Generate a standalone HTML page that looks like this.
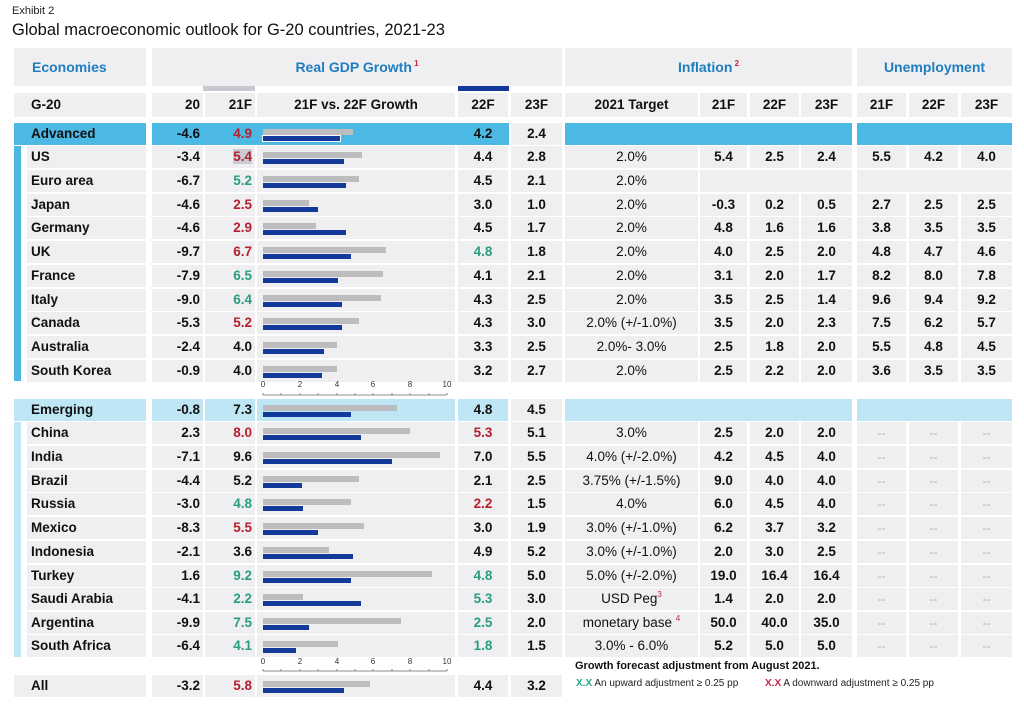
<!DOCTYPE html>
<html><head><meta charset="utf-8"><style>
body{margin:0;width:1024px;height:707px;background:#fff;font-family:"Liberation Sans",Arial,sans-serif;position:relative;overflow:hidden}
.ab{position:absolute}
.r{position:absolute;left:0;width:1024px;height:22px}
.r>div{position:absolute;top:0;height:22px;line-height:22px;background:#efeff1;font-weight:bold;font-size:13.5px;color:#111;box-sizing:border-box}
.n{left:27px;width:119px;padding-left:4px}
.a{left:152px;width:51px;text-align:right;padding-right:3px}
.b{left:205px;width:50px;text-align:right;padding-right:3px}
.ch{left:257px;width:198px}
.d{left:458px;width:50px;text-align:center}
.e{left:511px;width:51px;text-align:center}
.t{left:565px;width:133px;text-align:center;font-weight:normal!important}
.i1{left:700px;width:47px;text-align:center}
.i2{left:750px;width:49px;text-align:center}
.i3{left:801px;width:51px;text-align:center}
.u1{left:857px;width:49px;text-align:center}
.u2{left:909px;width:49px;text-align:center}
.u3{left:961px;width:51px;text-align:center}
.dash{color:#b0b0b0!important;font-weight:normal!important;font-size:12px!important}
.g{color:#2a9d7f!important}.rd{color:#b5202e!important}
.gb{position:absolute;left:6px;top:6px;height:6px;background:#bdbdc0}
.bb{position:absolute;left:6px;top:13px;height:5px;background:#13399b}
.hd{position:absolute;background:#efeff1;color:#1f7ec0;font-weight:bold;font-size:14px;text-align:center;top:48px;height:38px;line-height:38px}
.h2{position:absolute;top:93px;height:24px;line-height:24px;background:#efeff1;font-weight:bold;font-size:13.5px;text-align:center;color:#111}
.adv>div{background:#4cb8e4}
.adv>div.tr{background:transparent}
.emg>div{background:#bfe6f5}
sup{color:#c0283a;font-size:8px;line-height:0;vertical-align:6px}
</style></head><body>
<div class="ab" style="left:12px;top:5px;font-size:11px;color:#222">Exhibit 2</div>
<div class="ab" style="left:12px;top:21px;font-size:16.5px;color:#111">Global macroeconomic outlook for G-20 countries, 2021-23</div>

<div class="hd" style="left:14px;width:132px;text-align:left;padding-left:18px;box-sizing:border-box">Economies</div>
<div class="hd" style="left:152px;width:410px">Real GDP Growth<sup> 1</sup></div>
<div class="hd" style="left:565px;width:287px">Inflation<sup> 2</sup></div>
<div class="hd" style="left:857px;width:155px">Unemployment</div>
<div class="ab" style="left:203px;top:86px;width:52px;height:5px;background:#c8c9d0"></div>
<div class="ab" style="left:458px;top:86px;width:51px;height:5px;background:#13399b"></div>

<div class="h2" style="left:14px;width:132px;text-align:left;padding-left:17px;box-sizing:border-box">G-20</div>
<div class="h2" style="left:152px;width:51px;text-align:right;padding-right:3px;box-sizing:border-box">20</div>
<div class="h2" style="left:205px;width:50px;text-align:right;padding-right:3px;box-sizing:border-box">21F</div>
<div class="h2" style="left:257px;width:198px">21F vs. 22F Growth</div>
<div class="h2" style="left:458px;width:50px">22F</div>
<div class="h2" style="left:511px;width:51px">23F</div>
<div class="h2" style="left:565px;width:133px">2021 Target</div>
<div class="h2" style="left:700px;width:47px">21F</div>
<div class="h2" style="left:750px;width:49px">22F</div>
<div class="h2" style="left:801px;width:51px">23F</div>
<div class="h2" style="left:857px;width:49px">21F</div>
<div class="h2" style="left:909px;width:49px">22F</div>
<div class="h2" style="left:961px;width:51px">23F</div>

<div class="ab" style="left:14px;top:146px;width:7px;height:235px;background:#4cb8e4"></div>
<div class="ab" style="left:14px;top:422px;width:7px;height:235px;background:#bfe6f5"></div>

<div class="r adv" style="top:123px">
<div class="n" style="left:14px;width:132px;padding-left:17px">Advanced</div>
<div style="left:152px;width:357px"></div>
<div class="a tr">-4.6</div>
<div class="b rd tr">4.9</div>
<div class="ch tr"><div class="gb" style="width:90px"></div><div class="bb" style="width:77px;outline:1px solid #fff"></div></div>
<div class="d tr">4.2</div>
<div class="e" style="background:#efeff1">2.4</div>
<div style="left:565px;width:287px"></div>
<div style="left:857px;width:155px"></div>
</div>

<div class="r" style="top:146px"><div class="n">US</div><div class="a">-3.4</div><div class="b rd"><span style="background:#c9cad3">5.4</span></div><div class="ch"><div class="gb" style="width:99px"></div><div class="bb" style="width:81px"></div></div><div class="d">4.4</div><div class="e">2.8</div><div class="t">2.0%</div><div class="i1">5.4</div><div class="i2">2.5</div><div class="i3">2.4</div><div class="u1">5.5</div><div class="u2">4.2</div><div class="u3">4.0</div></div>
<div class="r" style="top:170px"><div class="n">Euro area</div><div class="a">-6.7</div><div class="b g">5.2</div><div class="ch"><div class="gb" style="width:96px"></div><div class="bb" style="width:83px"></div></div><div class="d">4.5</div><div class="e">2.1</div><div class="t">2.0%</div><div style="left:700px;width:152px"></div><div style="left:857px;width:155px"></div></div>
<div class="r" style="top:194px"><div class="n">Japan</div><div class="a">-4.6</div><div class="b rd">2.5</div><div class="ch"><div class="gb" style="width:46px"></div><div class="bb" style="width:55px"></div></div><div class="d">3.0</div><div class="e">1.0</div><div class="t">2.0%</div><div class="i1">-0.3</div><div class="i2">0.2</div><div class="i3">0.5</div><div class="u1">2.7</div><div class="u2">2.5</div><div class="u3">2.5</div></div>
<div class="r" style="top:217px"><div class="n">Germany</div><div class="a">-4.6</div><div class="b rd">2.9</div><div class="ch"><div class="gb" style="width:53px"></div><div class="bb" style="width:83px"></div></div><div class="d">4.5</div><div class="e">1.7</div><div class="t">2.0%</div><div class="i1">4.8</div><div class="i2">1.6</div><div class="i3">1.6</div><div class="u1">3.8</div><div class="u2">3.5</div><div class="u3">3.5</div></div>
<div class="r" style="top:241px"><div class="n">UK</div><div class="a">-9.7</div><div class="b rd">6.7</div><div class="ch"><div class="gb" style="width:123px"></div><div class="bb" style="width:88px"></div></div><div class="d g">4.8</div><div class="e">1.8</div><div class="t">2.0%</div><div class="i1">4.0</div><div class="i2">2.5</div><div class="i3">2.0</div><div class="u1">4.8</div><div class="u2">4.7</div><div class="u3">4.6</div></div>
<div class="r" style="top:265px"><div class="n">France</div><div class="a">-7.9</div><div class="b g">6.5</div><div class="ch"><div class="gb" style="width:120px"></div><div class="bb" style="width:75px"></div></div><div class="d">4.1</div><div class="e">2.1</div><div class="t">2.0%</div><div class="i1">3.1</div><div class="i2">2.0</div><div class="i3">1.7</div><div class="u1">8.2</div><div class="u2">8.0</div><div class="u3">7.8</div></div>
<div class="r" style="top:289px"><div class="n">Italy</div><div class="a">-9.0</div><div class="b g">6.4</div><div class="ch"><div class="gb" style="width:118px"></div><div class="bb" style="width:79px"></div></div><div class="d">4.3</div><div class="e">2.5</div><div class="t">2.0%</div><div class="i1">3.5</div><div class="i2">2.5</div><div class="i3">1.4</div><div class="u1">9.6</div><div class="u2">9.4</div><div class="u3">9.2</div></div>
<div class="r" style="top:312px"><div class="n">Canada</div><div class="a">-5.3</div><div class="b rd">5.2</div><div class="ch"><div class="gb" style="width:96px"></div><div class="bb" style="width:79px"></div></div><div class="d">4.3</div><div class="e">3.0</div><div class="t">2.0% (+/-1.0%)</div><div class="i1">3.5</div><div class="i2">2.0</div><div class="i3">2.3</div><div class="u1">7.5</div><div class="u2">6.2</div><div class="u3">5.7</div></div>
<div class="r" style="top:336px"><div class="n">Australia</div><div class="a">-2.4</div><div class="b">4.0</div><div class="ch"><div class="gb" style="width:74px"></div><div class="bb" style="width:61px"></div></div><div class="d">3.3</div><div class="e">2.5</div><div class="t">2.0%- 3.0%</div><div class="i1">2.5</div><div class="i2">1.8</div><div class="i3">2.0</div><div class="u1">5.5</div><div class="u2">4.8</div><div class="u3">4.5</div></div>
<div class="r" style="top:360px"><div class="n">South Korea</div><div class="a">-0.9</div><div class="b">4.0</div><div class="ch"><div class="gb" style="width:74px"></div><div class="bb" style="width:59px"></div></div><div class="d">3.2</div><div class="e">2.7</div><div class="t">2.0%</div><div class="i1">2.5</div><div class="i2">2.2</div><div class="i3">2.0</div><div class="u1">3.6</div><div class="u2">3.5</div><div class="u3">3.5</div></div>

<svg class="ab" style="left:255px;top:378px" width="205" height="22">
<g font-family="Liberation Sans,sans-serif" font-size="8" fill="#333" text-anchor="middle">
<text x="8" y="9">0</text><text x="45" y="9">2</text><text x="82" y="9">4</text><text x="118" y="9">6</text><text x="155" y="9">8</text><text x="192" y="9">10</text></g>
<path d="M8 17H192M8 15V17M26 15V17M45 15V17M63 15V17M82 15V17M100 15V17M118 15V17M137 15V17M155 15V17M174 15V17M192 15V17" stroke="#666" stroke-width="0.8" fill="none"/>
</svg>

<div class="r emg" style="top:399px">
<div class="n" style="left:14px;width:132px;padding-left:17px">Emerging</div>
<div class="a">-0.8</div><div class="b">7.3</div>
<div class="ch"><div class="gb" style="width:134px"></div><div class="bb" style="width:88px"></div></div>
<div class="d">4.8</div><div class="e" style="background:#efeff1">4.5</div>
<div style="left:565px;width:287px"></div><div style="left:857px;width:155px"></div>
</div>

<div class="r" style="top:422px"><div class="n">China</div><div class="a">2.3</div><div class="b rd">8.0</div><div class="ch"><div class="gb" style="width:147px"></div><div class="bb" style="width:98px"></div></div><div class="d rd">5.3</div><div class="e">5.1</div><div class="t">3.0%</div><div class="i1">2.5</div><div class="i2">2.0</div><div class="i3">2.0</div><div class="u1 dash">--</div><div class="u2 dash">--</div><div class="u3 dash">--</div></div>
<div class="r" style="top:446px"><div class="n">India</div><div class="a">-7.1</div><div class="b">9.6</div><div class="ch"><div class="gb" style="width:177px"></div><div class="bb" style="width:129px"></div></div><div class="d">7.0</div><div class="e">5.5</div><div class="t">4.0% (+/-2.0%)</div><div class="i1">4.2</div><div class="i2">4.5</div><div class="i3">4.0</div><div class="u1 dash">--</div><div class="u2 dash">--</div><div class="u3 dash">--</div></div>
<div class="r" style="top:470px"><div class="n">Brazil</div><div class="a">-4.4</div><div class="b">5.2</div><div class="ch"><div class="gb" style="width:96px"></div><div class="bb" style="width:39px"></div></div><div class="d">2.1</div><div class="e">2.5</div><div class="t">3.75% (+/-1.5%)</div><div class="i1">9.0</div><div class="i2">4.0</div><div class="i3">4.0</div><div class="u1 dash">--</div><div class="u2 dash">--</div><div class="u3 dash">--</div></div>
<div class="r" style="top:493px"><div class="n">Russia</div><div class="a">-3.0</div><div class="b g">4.8</div><div class="ch"><div class="gb" style="width:88px"></div><div class="bb" style="width:40px"></div></div><div class="d rd">2.2</div><div class="e">1.5</div><div class="t">4.0%</div><div class="i1">6.0</div><div class="i2">4.5</div><div class="i3">4.0</div><div class="u1 dash">--</div><div class="u2 dash">--</div><div class="u3 dash">--</div></div>
<div class="r" style="top:517px"><div class="n">Mexico</div><div class="a">-8.3</div><div class="b rd">5.5</div><div class="ch"><div class="gb" style="width:101px"></div><div class="bb" style="width:55px"></div></div><div class="d">3.0</div><div class="e">1.9</div><div class="t">3.0% (+/-1.0%)</div><div class="i1">6.2</div><div class="i2">3.7</div><div class="i3">3.2</div><div class="u1 dash">--</div><div class="u2 dash">--</div><div class="u3 dash">--</div></div>
<div class="r" style="top:541px"><div class="n">Indonesia</div><div class="a">-2.1</div><div class="b">3.6</div><div class="ch"><div class="gb" style="width:66px"></div><div class="bb" style="width:90px"></div></div><div class="d">4.9</div><div class="e">5.2</div><div class="t">3.0% (+/-1.0%)</div><div class="i1">2.0</div><div class="i2">3.0</div><div class="i3">2.5</div><div class="u1 dash">--</div><div class="u2 dash">--</div><div class="u3 dash">--</div></div>
<div class="r" style="top:565px"><div class="n">Turkey</div><div class="a">1.6</div><div class="b g">9.2</div><div class="ch"><div class="gb" style="width:169px"></div><div class="bb" style="width:88px"></div></div><div class="d g">4.8</div><div class="e">5.0</div><div class="t">5.0% (+/-2.0%)</div><div class="i1">19.0</div><div class="i2">16.4</div><div class="i3">16.4</div><div class="u1 dash">--</div><div class="u2 dash">--</div><div class="u3 dash">--</div></div>
<div class="r" style="top:588px"><div class="n">Saudi Arabia</div><div class="a">-4.1</div><div class="b g">2.2</div><div class="ch"><div class="gb" style="width:40px"></div><div class="bb" style="width:98px"></div></div><div class="d g">5.3</div><div class="e">3.0</div><div class="t">USD Peg<sup>3</sup></div><div class="i1">1.4</div><div class="i2">2.0</div><div class="i3">2.0</div><div class="u1 dash">--</div><div class="u2 dash">--</div><div class="u3 dash">--</div></div>
<div class="r" style="top:612px"><div class="n">Argentina</div><div class="a">-9.9</div><div class="b g">7.5</div><div class="ch"><div class="gb" style="width:138px"></div><div class="bb" style="width:46px"></div></div><div class="d g">2.5</div><div class="e">2.0</div><div class="t">monetary base <sup>4</sup></div><div class="i1">50.0</div><div class="i2">40.0</div><div class="i3">35.0</div><div class="u1 dash">--</div><div class="u2 dash">--</div><div class="u3 dash">--</div></div>
<div class="r" style="top:635px"><div class="n">South Africa</div><div class="a">-6.4</div><div class="b g">4.1</div><div class="ch"><div class="gb" style="width:75px"></div><div class="bb" style="width:33px"></div></div><div class="d g">1.8</div><div class="e">1.5</div><div class="t">3.0% - 6.0%</div><div class="i1">5.2</div><div class="i2">5.0</div><div class="i3">5.0</div><div class="u1 dash">--</div><div class="u2 dash">--</div><div class="u3 dash">--</div></div>

<svg class="ab" style="left:255px;top:655px" width="205" height="22">
<g font-family="Liberation Sans,sans-serif" font-size="8" fill="#333" text-anchor="middle">
<text x="8" y="9">0</text><text x="45" y="9">2</text><text x="82" y="9">4</text><text x="118" y="9">6</text><text x="155" y="9">8</text><text x="192" y="9">10</text></g>
<path d="M8 16H192M8 14V16M26 14V16M45 14V16M63 14V16M82 14V16M100 14V16M118 14V16M137 14V16M155 14V16M174 14V16M192 14V16" stroke="#666" stroke-width="0.8" fill="none"/>
</svg>

<div class="r" style="top:675px"><div class="n" style="left:14px;width:132px;padding-left:17px">All</div><div class="a">-3.2</div><div class="b rd">5.8</div><div class="ch"><div class="gb" style="width:107px"></div><div class="bb" style="width:81px"></div></div><div class="d">4.4</div><div class="e">3.2</div></div>

<div class="ab" style="left:575px;top:660px;font-size:11px;font-weight:bold;color:#111">Growth forecast adjustment from August 2021.</div>
<div class="ab" style="left:576px;top:678px;font-size:10px;color:#222"><b style="color:#2aa68a">X.X</b> An upward adjustment ≥ 0.25 pp</div>
<div class="ab" style="left:765px;top:678px;font-size:10px;color:#222"><b style="color:#c0284a">X.X</b> A downward adjustment ≥ 0.25 pp</div>
</body></html>
